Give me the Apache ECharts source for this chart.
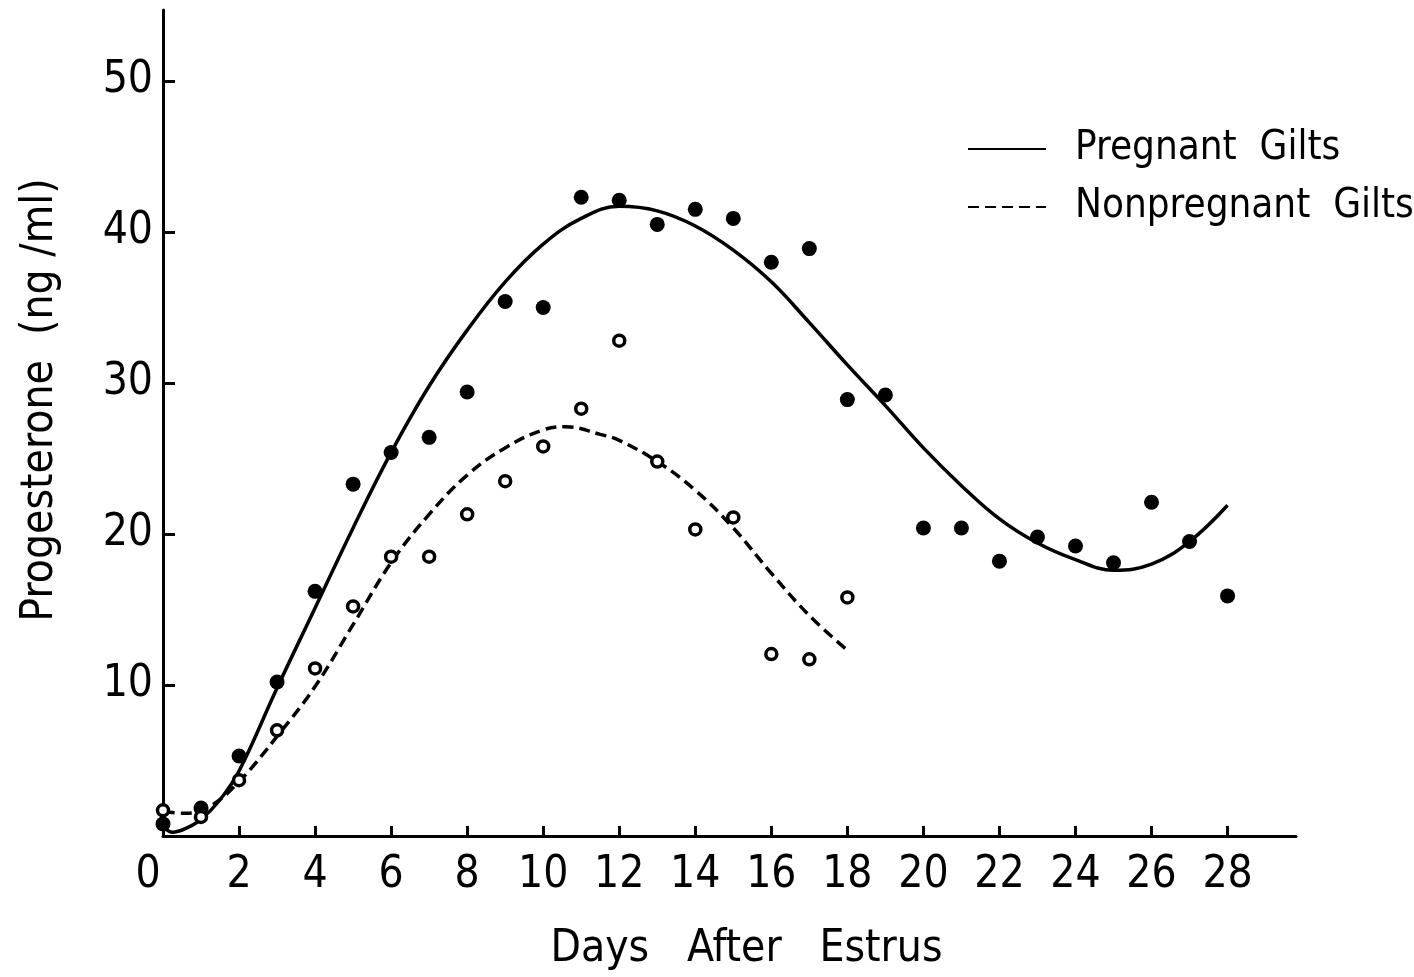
<!DOCTYPE html>
<html>
<head>
<meta charset="utf-8">
<script src="https://cdn.jsdelivr.net/npm/echarts@6/dist/echarts.min.js"></script>
<style>
  html, body { margin: 0; padding: 0; background: #fff; }
  #chart { width: 1414px; height: 977px; }
</style>
</head>
<body>
<div id="chart"></div>
<script>
// fitted curves, [day, ng/ml]
const pregnantCurve = [
  [0.02, 0.6], [0.25, 0.25], [0.6, 0.5], [1.0, 1.1], [1.5, 2.4], [2, 4.3],
  [3, 9.8], [4, 15.1], [5, 20.4], [6, 25.4], [7, 29.8], [8, 33.5],
  [9, 36.7], [10, 39.2], [11, 40.9], [12, 41.7], [13, 41.4], [14, 40.4],
  [15, 38.8], [16, 36.7], [17, 34.0], [18, 31.2], [19, 28.5], [20, 25.7],
  [21, 23.2], [22, 21.0], [23, 19.4], [24, 18.3], [25, 17.6], [26, 18.0],
  [27, 19.5], [28, 21.9]
];
const nonpregnantCurve = [
  [0.02, 1.6], [0.6, 1.5], [1.2, 1.9], [2, 3.6], [3, 6.6], [4, 9.9],
  [5, 14.0], [6, 18.1], [7, 21.3], [8, 23.9], [9, 25.7], [10, 26.9],
  [10.6, 27.1], [11.5, 26.6], [12, 26.2], [13, 24.8], [14, 22.9], [15, 20.4],
  [16, 17.4], [17, 14.6], [18, 12.3]
];

// observed means, one per day
const pregnantDays = [0, 1, 2, 3, 4, 5, 6, 7, 8, 9, 10, 11, 12, 13, 14, 15, 16, 17, 18, 19, 20, 21, 22, 23, 24, 25, 26, 27, 28];
const pregnantValues = [0.8, 1.85, 5.3, 10.2, 16.2, 23.3, 25.4, 26.4, 29.4, 35.4, 35.0, 42.3, 42.1, 40.5, 41.5, 40.9, 38.0, 38.9, 28.9, 29.2, 20.4, 20.4, 18.2, 19.8, 19.2, 18.1, 22.1, 19.5, 15.9];
const nonpregnantDays = [0, 1, 2, 3, 4, 5, 6, 7, 8, 9, 10, 11, 12, 13, 14, 15, 16, 17, 18];
const nonpregnantValues = [1.7, 1.26, 3.7, 7.0, 11.1, 15.2, 18.5, 18.5, 21.3, 23.5, 25.8, 28.3, 32.8, 24.8, 20.3, 21.1, 12.05, 11.7, 15.8];

const xTicks = [0, 2, 4, 6, 8, 10, 12, 14, 16, 18, 20, 22, 24, 26, 28];

const FONT = '"Liberation Sans Narrow", "DejaVu Sans Condensed", sans-serif';

const chart = echarts.init(document.getElementById("chart"), null, { renderer: "canvas" });

chart.setOption({
  backgroundColor: "#fff",
  animation: false,
  grid: { left: 163, right: 118, top: 10, bottom: 141 },
  legend: {
    orient: "vertical",
    left: 962,
    top: 124,
    itemWidth: 78,
    itemHeight: 14,
    itemGap: 18,
    itemStyle: { opacity: 0 },
    textStyle: {
      color: "#000",
      fontFamily: FONT,
      fontSize: 40,
      lineHeight: 40,
      padding: [0, 0, 0, 24]
    },
    data: ["Pregnant Gilts", "Nonpregnant Gilts"],
    formatter: (n) => n.replace(" Gilts", "  Gilts")
  },
  xAxis: {
    type: "value",
    min: 0,
    max: 29.8,
    interval: 2,
    name: "Days   After   Estrus",
    nameLocation: "middle",
    nameGap: 92,
    nameTextStyle: { color: "#000", fontFamily: FONT, fontSize: 44, padding: [0, 0, 0, 34] },
    axisLine: { lineStyle: { color: "#000", width: 3 } },
    axisTick: {
      inside: true,
      length: 10,
      lineStyle: { color: "#000", width: 3 },
      customValues: xTicks
    },
    axisLabel: {
      color: "#000",
      fontFamily: FONT,
      fontSize: 44,
      margin: 18,
      customValues: xTicks,
      formatter: (v) => (v === 0 ? "{o|0}" : String(v)),
      rich: { o: { fontFamily: FONT, fontSize: 44, color: "#000", padding: [0, 30, 0, 0] } }
    },
    splitLine: { show: false }
  },
  yAxis: {
    type: "value",
    min: 0,
    max: 54.7,
    interval: 10,
    name: "Progesterone  (ng /ml)",
    nameLocation: "middle",
    nameGap: 100,
    nameRotate: 90,
    nameTextStyle: { color: "#000", fontFamily: FONT, fontSize: 44, padding: [0, 0, 0, 46] },
    axisLine: { show: true, lineStyle: { color: "#000", width: 3 } },
    axisTick: { show: true, inside: true, length: 12, lineStyle: { color: "#000", width: 3 } },
    axisLabel: {
      color: "#000",
      fontFamily: FONT,
      fontSize: 44,
      margin: 10,
      showMaxLabel: false,
      formatter: (v) => (v === 0 ? "" : String(v))
    },
    splitLine: { show: false }
  },
  series: [
    {
      name: "Pregnant Gilts",
      type: "line",
      data: pregnantCurve,
      smooth: 0.4,
      symbol: "none",
      lineStyle: { color: "#000", width: 3.5 },
      itemStyle: { color: "#000" },
      z: 2
    },
    {
      name: "Nonpregnant Gilts",
      type: "line",
      data: nonpregnantCurve,
      smooth: 0.4,
      symbol: "none",
      lineStyle: { color: "#000", width: 3.5, type: [11, 6] },
      itemStyle: { color: "#000" },
      z: 2
    },
    {
      name: "pregnant obs",
      type: "scatter",
      data: pregnantDays.map((d, i) => [d, pregnantValues[i]]),
      symbol: "circle",
      symbolSize: 15,
      clip: false,
      itemStyle: { color: "#000", opacity: 1 },
      z: 3
    },
    {
      name: "nonpregnant obs",
      type: "scatter",
      data: nonpregnantDays.map((d, i) => [d, nonpregnantValues[i]]),
      symbol: "circle",
      symbolSize: 11,
      clip: false,
      itemStyle: { color: "#fff", borderColor: "#000", borderWidth: 3.5, opacity: 1 },
      z: 4
    }
  ]
});
</script>
</body>
</html>
